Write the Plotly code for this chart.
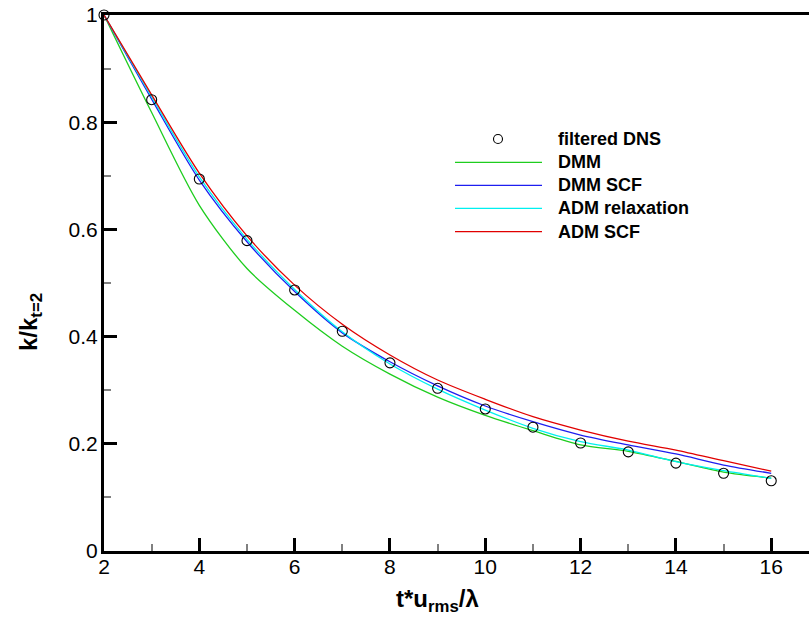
import plotly.graph_objects as go

# ---- data ----
t = [2, 3, 4, 5, 6, 7, 8, 9, 10, 11, 12, 13, 14, 15, 16]
filtered_dns = [1.0, 0.842, 0.694, 0.579, 0.487, 0.410, 0.351, 0.3035, 0.265, 0.231, 0.2015, 0.185, 0.164, 0.145, 0.131]
dmm = [1.0, 0.818, 0.645, 0.527, 0.449, 0.382, 0.330, 0.287, 0.253, 0.2245, 0.198, 0.186, 0.167, 0.147, 0.136]
dmm_scf = [1.0, 0.843, 0.692, 0.577, 0.484, 0.407, 0.353, 0.308, 0.2705, 0.2413, 0.2164, 0.198, 0.181, 0.1604, 0.145]
adm_relax = [1.0, 0.847, 0.698, 0.5815, 0.488, 0.409, 0.349, 0.302, 0.263, 0.229, 0.204, 0.1884, 0.1667, 0.1498, 0.1356]
adm_scf = [1.0, 0.851, 0.705, 0.588, 0.496, 0.423, 0.3657, 0.319, 0.283, 0.2506, 0.2257, 0.205, 0.1884, 0.1685, 0.149]

x_major = [2, 4, 6, 8, 10, 12, 14, 16]
x_minor = [3, 5, 7, 9, 11, 13, 15]
y_major = [0, 0.2, 0.4, 0.6, 0.8, 1]
y_major_text = ["0", "0.2", "0.4", "0.6", "0.8", "1"]
y_minor = [0.1, 0.3, 0.5, 0.7, 0.9]

series = [
    ("DMM", dmm, "rgb(30,205,30)"),
    ("DMM SCF", dmm_scf, "rgb(30,30,240)"),
    ("ADM relaxation", adm_relax, "rgb(0,240,240)"),
    ("ADM SCF", adm_scf, "rgb(225,0,0)"),
]
legend_names = ["filtered DNS"] + [s[0] for s in series]

FONT = "Liberation Sans, Arial, sans-serif"

fig = go.Figure()
for name, vals, col in series:
    fig.add_trace(go.Scatter(x=t, y=vals, mode="lines", name=name,
                             line=dict(color=col, width=1.3, shape="spline", smoothing=0.8),
                             showlegend=False, cliponaxis=False))
fig.add_trace(go.Scatter(x=t, y=filtered_dns, mode="markers", name="filtered DNS",
                         marker=dict(symbol="circle-open", size=10, color="black",
                                     line=dict(width=1.1, color="black")),
                         showlegend=False, cliponaxis=False))

# ---- manual legend (Tecplot style) ----
W, H = 705.0, 536.0
def px(xp):
    return (xp - 104) / W
def py(yp):
    return (551 - yp) / H

rows = [139, 162.3, 185.3, 208.3, 231.6]
shapes = []
annotations = []
shapes.append(dict(type="circle", xref="paper", yref="paper", xsizemode="pixel", ysizemode="pixel",
                   xanchor=px(498), yanchor=py(rows[0]), x0=-4.5, x1=4.5, y0=-4.5, y1=4.5,
                   line=dict(color="black", width=1.1)))
for (name, vals, col), yr in zip(series, rows[1:]):
    shapes.append(dict(type="line", xref="paper", yref="paper",
                       x0=px(455), x1=px(542), y0=py(yr), y1=py(yr),
                       line=dict(color=col, width=1.3)))
for name, yr in zip(legend_names, rows):
    annotations.append(dict(text="<b>%s</b>" % name, xref="paper", yref="paper",
                            x=px(556), y=py(yr), xanchor="left", yanchor="middle",
                            showarrow=False, font=dict(family=FONT, size=18, color="black")))

annotations.append(dict(text="<b>t*u<sub>rms</sub>/λ</b>", xref="paper", yref="paper",
                        x=px(437), y=py(600), xanchor="center", yanchor="middle",
                        showarrow=False, font=dict(family=FONT, size=24, color="black")))
annotations.append(dict(text="<b>k/k<sub>t=2</sub></b>", xref="paper", yref="paper",
                        x=px(30), y=py(322), xanchor="center", yanchor="middle", textangle=-90,
                        showarrow=False, font=dict(family=FONT, size=24, color="black")))

fig.update_layout(
    width=809, height=631,
    margin=dict(l=104, r=0, t=15, b=80),
    paper_bgcolor="white", plot_bgcolor="white",
    font=dict(family=FONT, size=21, color="black"),
    shapes=shapes, annotations=annotations,
    showlegend=False,
)
fig.update_xaxes(range=[2, 2 + W / 47.66], tickvals=x_major,
                 ticks="inside", ticklen=13, tickwidth=3, tickcolor="black",
                 showline=True, linewidth=3, linecolor="black", mirror=True,
                 showgrid=False, zeroline=False, ticklabelstandoff=-5,
                 minor=dict(tickvals=x_minor, ticks="inside", ticklen=7,
                            tickwidth=1.5, tickcolor="gray", showgrid=False),
                 tickfont=dict(family=FONT, size=21))
fig.update_yaxes(range=[0, 1], tickvals=y_major, ticktext=y_major_text,
                 ticks="inside", ticklen=13, tickwidth=3, tickcolor="black",
                 showline=True, linewidth=3, linecolor="black", mirror=False,
                 showgrid=False, zeroline=False, ticklabelstandoff=-1,
                 minor=dict(tickvals=y_minor, ticks="inside", ticklen=7,
                            tickwidth=1.5, tickcolor="gray", showgrid=False),
                 tickfont=dict(family=FONT, size=21))

fig.write_html("out.html")
